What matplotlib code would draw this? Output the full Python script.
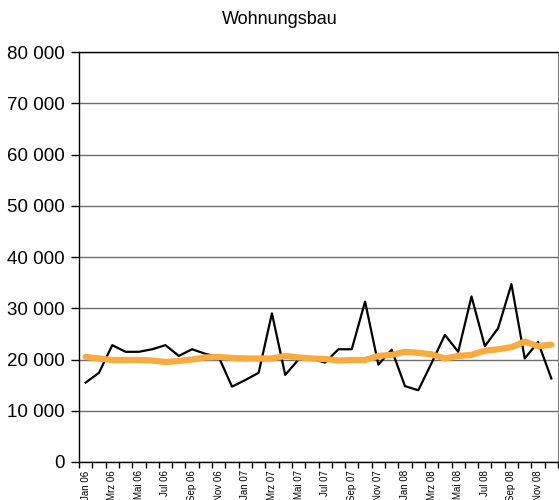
import matplotlib.pyplot as plt
import numpy as np

plt.rcParams['font.family'] = ['Liberation Sans', 'DejaVu Sans']

months = ["Jan", "Feb", "Mrz", "Apr", "Mai", "Jun", "Jul", "Aug", "Sep", "Okt", "Nov", "Dez"]
years = ["06", "07", "08"]
labels = [f"{m} {y}" for y in years for m in months]

# Monatswerte (schwarz)
werte = [15500, 17400, 22800, 21500, 21500, 22000, 22800, 20700, 22000, 21100, 20500, 14700,
         16000, 17400, 29000, 17000, 20000, 20100, 19400, 22000, 22000, 31300, 19000, 21900,
         14800, 14000, 19300, 24800, 21500, 32300, 22600, 26100, 34700, 20200, 23400, 16300]

# Trend (orange)
trend = [20500, 20200, 19900, 19900, 19900, 19800, 19500, 19700, 20000, 20400, 20500, 20300,
         20200, 20200, 20200, 20700, 20400, 20200, 20100, 19800, 19900, 19900, 20700, 20900,
         21500, 21300, 21000, 20200, 20700, 20900, 21700, 22000, 22400, 23500, 22600, 22900]

yticks = [0, 10000, 20000, 30000, 40000, 50000, 60000, 70000, 80000]

fig = plt.figure(figsize=(5.59, 5.0), dpi=100)
ax = fig.add_axes([79 / 559, 38 / 500, 479 / 559, 410 / 500])

x = np.arange(len(werte))
ax.plot(x, werte, color="black", lw=1.6, zorder=3)
ax.plot(x, trend, color="#F9AC3D", lw=4.5, solid_capstyle="round", zorder=4)

ax.set_xlim(-0.5, len(werte) - 0.5)
ax.set_ylim(0, 80000)

# Gitterlinien
ax.set_yticks(yticks)
ax.set_yticklabels([f"{v:,}".replace(",", " ") for v in yticks], fontsize=13.5)
ax.yaxis.grid(True, color="#707070", lw=1)
ax.set_axisbelow(True)
ax.tick_params(axis="y", length=6, width=1, direction="out", pad=4)

# Kategorien-Achse
ax.set_xticks(x[::2])
ax.set_xticklabels(labels[::2], rotation=90, fontsize=7)
ax.set_xticks(np.arange(-0.5, len(werte)), minor=True)
ax.tick_params(axis="x", which="major", length=0, pad=6)
ax.tick_params(axis="x", which="minor", length=4, width=1, direction="out")

for s in ["left", "bottom", "top"]:
    ax.spines[s].set_color("black")
    ax.spines[s].set_linewidth(1)
ax.spines["right"].set_color("#808080")

fig.text(280 / 559, 1 - 20 / 500, "Wohnungsbau", ha="center", va="center", fontsize=13)

fig.savefig("out.png", dpi=100)
